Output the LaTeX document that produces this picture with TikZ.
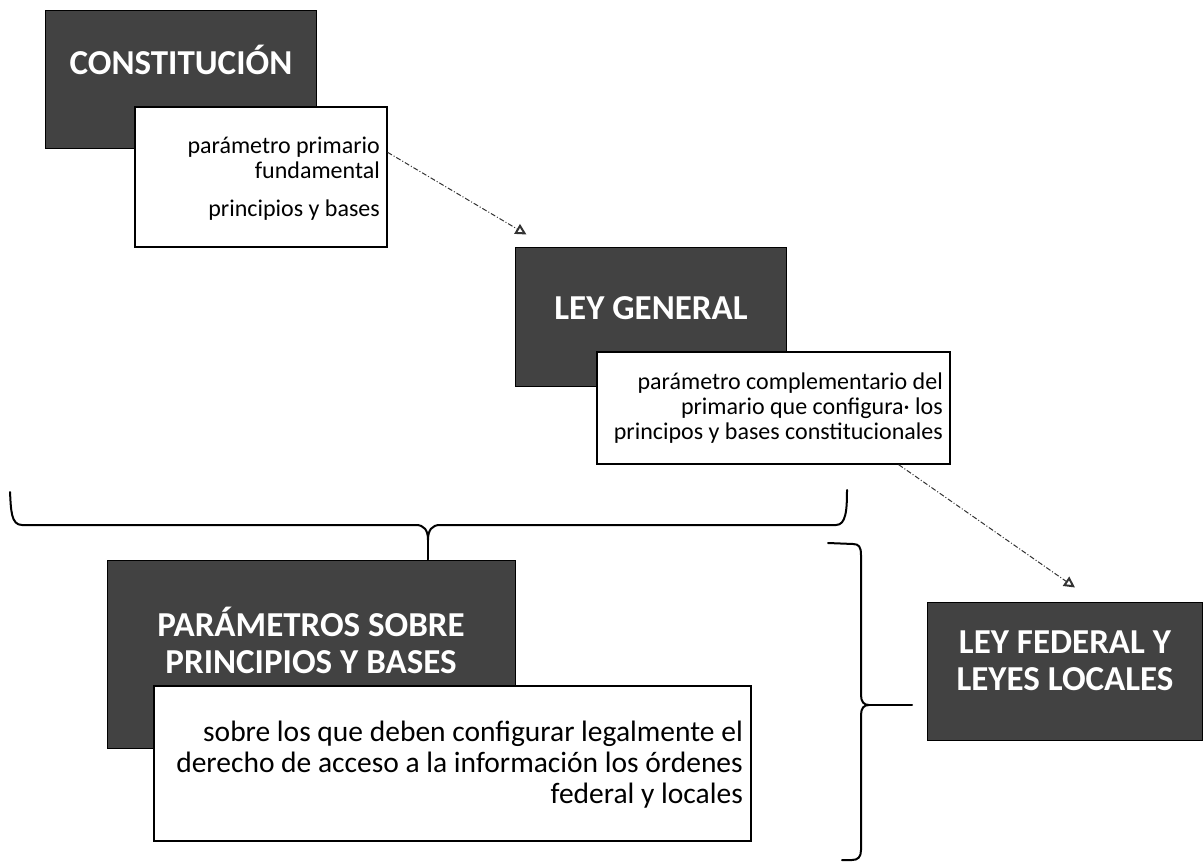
\documentclass[tikz,border=0pt]{standalone}
\usepackage{fontspec}
\setmainfont{Carlito}
\usetikzlibrary{arrows.meta}
\begin{document}
\begin{tikzpicture}[x=1pt,y=-1pt,
  darkbox/.style={draw=black, line width=1pt, fill=black!74, inner sep=0pt},
  whitebox/.style={draw=black, line width=1.3pt, fill=white, inner sep=0pt},
  title/.style={text=white, font=\fontsize{35}{37}\selectfont\bfseries, inner sep=0pt, anchor=base},
  body/.style={font=\fontsize{24}{25}\selectfont, inner sep=0pt, anchor=base east},
  bigbody/.style={font=\fontsize{29.5}{31}\selectfont, inner sep=0pt, anchor=base east},
  flow/.style={line width=1pt, black!80, dash pattern=on 5pt off 2pt on 1pt off 2pt,
    -{Triangle[open,length=11pt,width=11pt,line width=2pt]}},
  brace/.style={line width=2pt, line cap=round, line join=round}
]
\useasboundingbox (0,0) rectangle (1203,862);

% CONSTITUCION
\node[darkbox, minimum width=271pt, minimum height=138pt] (c) at (180.5,79) {};
\node[title] (ct) at (181,74) {CONSTITUCIÓN};
\node[whitebox, minimum width=252pt, minimum height=140pt] (c2) at (261,177) {};
\node[body] (c2t) at (380,153) {\begin{tabular}[t]{@{}r@{}}parámetro primario\\fundamental\\[13pt]principios y bases\end{tabular}};

% LEY GENERAL
\node[darkbox, minimum width=271pt, minimum height=139pt] (lg) at (650.5,316.5) {};
\node[title] (lgt) at (651,319) {LEY GENERAL};
\node[whitebox, minimum width=353pt, minimum height=112pt] (lg2) at (773.5,408) {};
\node[body] (lg2t) at (943,389) {\begin{tabular}[t]{@{}r@{}}parámetro complementario del\\primario que configura\textperiodcentered\ los\\principos y bases constitucionales\end{tabular}};

% PARAMETROS
\node[darkbox, minimum width=408pt, minimum height=188pt] (pp) at (311,654) {};
\node[title] (ppt) at (311,636) {\begin{tabular}[t]{@{}c@{}}PARÁMETROS SOBRE\\PRINCIPIOS Y BASES\end{tabular}};
\node[whitebox, minimum width=597pt, minimum height=155pt] (pp2) at (452.5,763.5) {};
\node[bigbody] (pp2t) at (743,741) {\begin{tabular}[t]{@{}r@{}}sobre los que deben configurar legalmente el\\derecho de acceso a la información los órdenes\\federal y locales\end{tabular}};

% LEY FEDERAL
\node[darkbox, minimum width=275pt, minimum height=138pt] (lf) at (1064.5,671) {};
\node[title] (lft) at (1065,653) {\begin{tabular}[t]{@{}c@{}}LEY FEDERAL Y\\LEYES LOCALES\end{tabular}};

% arrows
\draw[flow] ([yshift=-46pt]c2.north east) -- ([xshift=12pt,yshift=12pt]lg.north west);
\draw[flow] ([xshift=-52pt]lg2.south east) -- ([xshift=10.5pt,yshift=14pt]lf.north);

% top brace
\coordinate (tipA) at (428,540);
\draw[brace] (10,492) .. controls (11,510) and (11,525) .. (22,525) -- (416,525)
  .. controls (424,525) and (428,530) .. (tipA)
  .. controls (428,530) and (432,525) .. (440,525) -- (836,525)
  .. controls (846,525) and (847,510) .. (847,490);
\draw[brace] (tipA) -- (tipA |- pp.north);

% right brace
\coordinate (tipB) at (869,705);
\coordinate (stemB) at (912,705);
\draw[brace] (828,543) -- (853,544) .. controls (859,544) and (861,547) .. (861,555) -- (861,695)
  .. controls (861,702) and (864,705) .. (tipB)
  .. controls (864,705) and (861,708) .. (861,715) -- (861,850)
  .. controls (861,857) and (858,860) .. (852,860) -- (842,860);
\draw[brace] (tipB) -- (stemB);
\end{tikzpicture}
\end{document}
